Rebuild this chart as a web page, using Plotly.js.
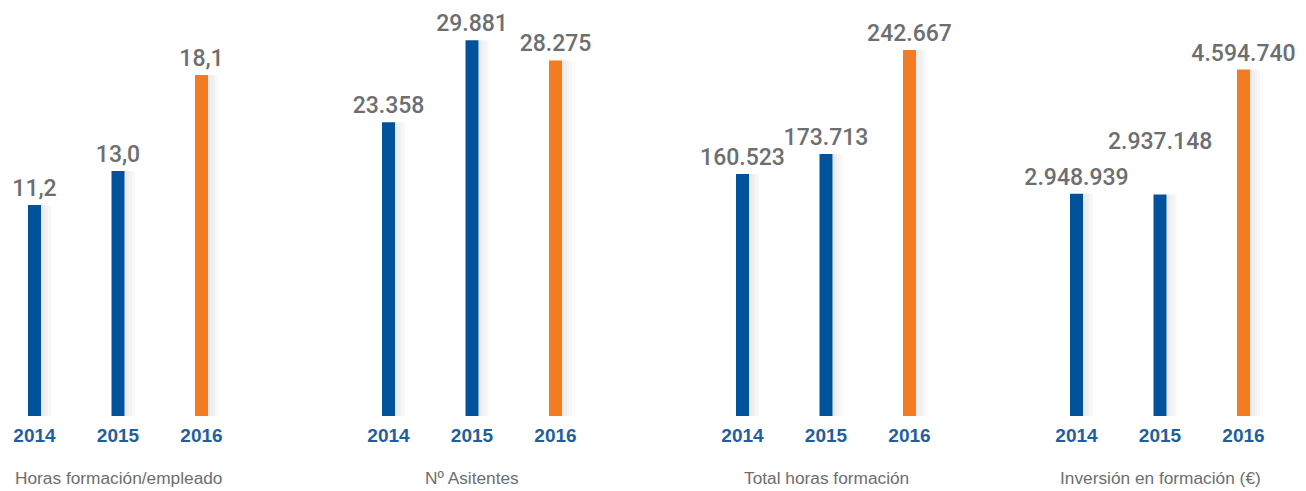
<!DOCTYPE html>
<html>
<head>
<meta charset="utf-8">
<script src="https://cdn.plot.ly/plotly-3.0.1.min.js"></script>
<style>html,body{margin:0;padding:0;background:#fff;}#chart{width:1306px;height:491px;}</style>
</head>
<body>
<div id="chart"></div>
<script>
const years = ['2014', '2015', '2016'];
const horasEmpleado = [11.2, 13.0, 18.1];
const horasEmpleadoLabels = ['11,2', '13,0', '18,1'];
const asistentes = [23358, 29881, 28275];
const asistentesLabels = ['23.358', '29.881', '28.275'];
const totalHoras = [160523, 173713, 242667];
const totalHorasLabels = ['160.523', '173.713', '242.667'];
const inversion = [2948939, 2937148, 4594740];
const inversionLabels = ['2.948.939', '2.937.148', '4.594.740'];
const panelTitles = ['Horas formación/empleado', 'N\u00ba Asitentes', 'Total horas formación', 'Inversión en formación (\u20ac)'];

const panels = [
  {values: horasEmpleado, labels: horasEmpleadoLabels, yMax: 22.08, raised: []},
  {values: asistentes, labels: asistentesLabels, yMax: 33080, raised: []},
  {values: totalHoras, labels: totalHorasLabels, yMax: 275800, raised: []},
  {values: inversion, labels: inversionLabels, yMax: 5517000, raised: [1]}
];

const W = 1306;
const blue = '#00539a', orange = '#f47b20';
const colors = [blue, blue, orange];
const barW = 13 / 83.5;
const panelLeft = [1.1, 355.1, 709.1, 1043.1];
const panelWidth = 250.5;
const labelFont = {family: 'Roboto, Liberation Sans, Arial, sans-serif', size: 23, color: '#6d6e70', weight: 500};

const traces = [];
const layout = {
  width: 1306, height: 491,
  margin: {l: 0, r: 0, t: 0, b: 75},
  paper_bgcolor: '#fff', plot_bgcolor: 'rgba(0,0,0,0)',
  showlegend: false,
  barmode: 'overlay',
  annotations: []
};

const shadeCols = ['#e9e9e9', '#eeeeee', '#f3f3f3', '#f8f8f8'];

panels.forEach((p, i) => {
  const sx = i === 0 ? '' : String(i + 1);
  const xa = 'x' + sx, ya = 'y' + sx;
  shadeCols.forEach((c, k) => {
    traces.push({
      type: 'bar', x: years, y: p.values, xaxis: xa, yaxis: ya,
      width: 2.6 / 83.5, offset: barW / 2 + k * 2.5 / 83.5,
      marker: {color: c, line: {width: 0}},
      hoverinfo: 'skip'
    });
  });
  const txt = p.labels.map((t, j) => p.raised.includes(j) ? '' : t);
  traces.push({
    type: 'bar', x: years, y: p.values, xaxis: xa, yaxis: ya,
    width: barW,
    marker: {color: colors, line: {width: 0}},
    text: txt, textposition: 'outside', cliponaxis: false, constraintext: 'none',
    textfont: labelFont,
    hoverinfo: 'skip'
  });
  p.raised.forEach(j => {
    layout.annotations.push({
      text: p.labels[j], xref: xa, yref: ya, x: j, y: p.values[j],
      xanchor: 'center', yanchor: 'bottom', yshift: 38, showarrow: false,
      font: labelFont
    });
  });
  layout['xaxis' + sx] = {
    domain: [panelLeft[i] / W, (panelLeft[i] + panelWidth) / W],
    anchor: ya, type: 'category', range: [-0.4, 2.6],
    showgrid: false, zeroline: false, showline: false, ticks: '',
    tickfont: {family: 'Liberation Sans, Arial, sans-serif', size: 19, color: '#1f5fa0', weight: 'bold'},
    ticklabelstandoff: 6,
    fixedrange: true
  };
  layout['yaxis' + sx] = {
    domain: [0, 1], anchor: xa, range: [0, p.yMax],
    showgrid: false, zeroline: false, showline: false, showticklabels: false, ticks: '',
    fixedrange: true
  };
  layout.annotations.push({
    text: panelTitles[i], xref: xa, yref: 'paper', x: 1, y: 0, yshift: -62,
    xanchor: 'center', yanchor: 'middle', showarrow: false,
    font: {family: 'Liberation Sans, Arial, sans-serif', size: 17.3, color: '#6d6e70'}
  });
});

Plotly.newPlot('chart', traces, layout, {displayModeBar: false, staticPlot: true});
</script>
</body>
</html>
